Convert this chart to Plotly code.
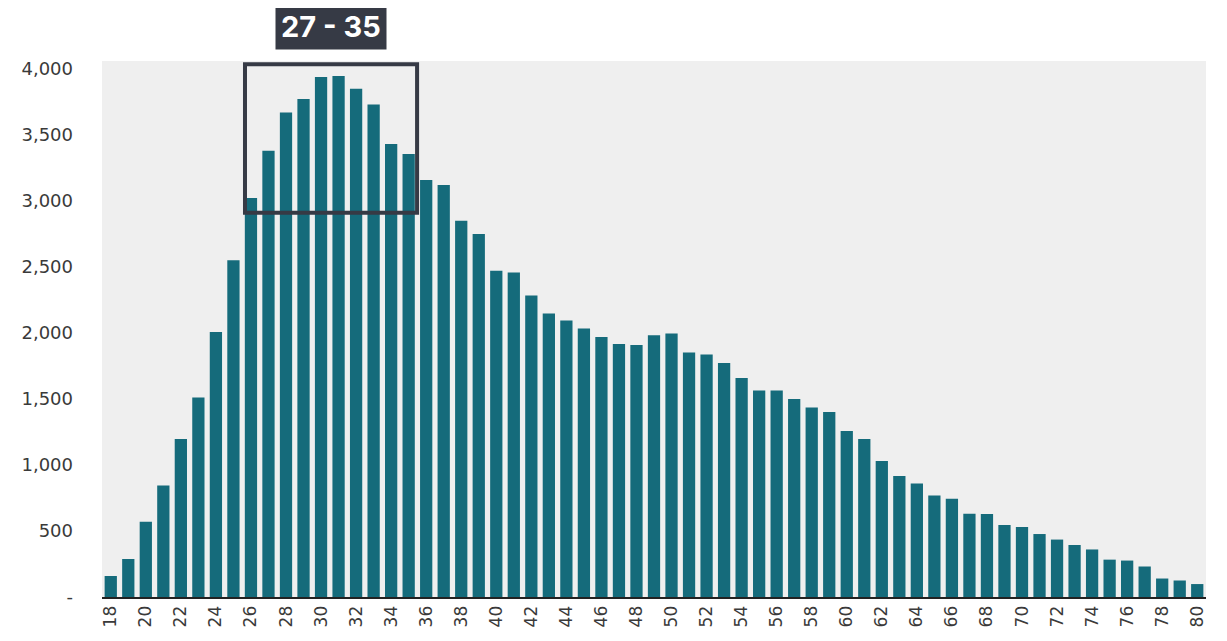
import plotly.graph_objects as go

ages = list(range(18, 81))
counts = [
    159, 288, 570, 845, 1197, 1512, 2008, 2550, 3023, 3380,
    3670, 3773, 3939, 3947, 3850, 3730, 3432, 3356, 3159, 3121,
    2850, 2750, 2472, 2458, 2284, 2148, 2094, 2034, 1970, 1917,
    1909, 1982, 1995, 1852, 1837, 1773, 1659, 1565, 1565, 1500,
    1436, 1402, 1258, 1197, 1030, 917, 860, 768, 745, 630,
    629, 545, 530, 477, 435, 394, 360, 283, 276, 231,
    140, 125, 98,
]
x_ticks = list(range(18, 81, 2))
y_ticks = [0, 500, 1000, 1500, 2000, 2500, 3000, 3500, 4000]
y_labels = ["-", "500", "1,000", "1,500", "2,000", "2,500", "3,000", "3,500", "4,000"]
peak_range = (25.66, 35.48)
peak_label = "27 - 35"

fig = go.Figure()

fig.add_trace(
    go.Bar(
        x=ages,
        y=counts,
        marker=dict(color="#156b7b", line=dict(width=0)),
        hovertemplate="%{x}: %{y:,}<extra></extra>",
    )
)

# highlight box around the peak ages
fig.add_shape(
    type="rect",
    xref="x",
    yref="y",
    x0=peak_range[0],
    x1=peak_range[1],
    y0=2910,
    y1=4035,
    line=dict(color="#363a45", width=4),
)

fig.add_annotation(
    text=f"<b>{peak_label}</b>",
    xref="x",
    yref="paper",
    x=30.55,
    y=1.064,
    xanchor="center",
    yanchor="middle",
    showarrow=False,
    font=dict(family="Inter, Roboto, sans-serif", size=29, color="white"),
    bgcolor="#363a45",
    borderpad=5,
)

# page body has an 8px margin, so size/margins are shifted to land the plot area in place
fig.update_layout(
    width=1219,
    height=633,
    margin=dict(l=94, r=21, t=53, b=44),
    paper_bgcolor="white",
    plot_bgcolor="#efefef",
    font=dict(family="DejaVu Sans, sans-serif", size=18, color="#3a3a3a"),
    bargap=0.3,
    showlegend=False,
)
fig.update_xaxes(
    range=[17.5, 80.5],
    tickvals=x_ticks,
    ticktext=[str(v) for v in x_ticks],
    tickangle=-90,
    showgrid=False,
    showline=True,
    linecolor="#222222",
    linewidth=2,
    ticks="",
    tickfont=dict(size=17),
)
fig.update_yaxes(
    range=[0, 4060],
    tickvals=y_ticks,
    ticktext=y_labels,
    showgrid=False,
    zeroline=False,
    ticks="",
    ticklabelstandoff=28,
    tickfont=dict(size=18),
)

fig.write_html("out.html")
